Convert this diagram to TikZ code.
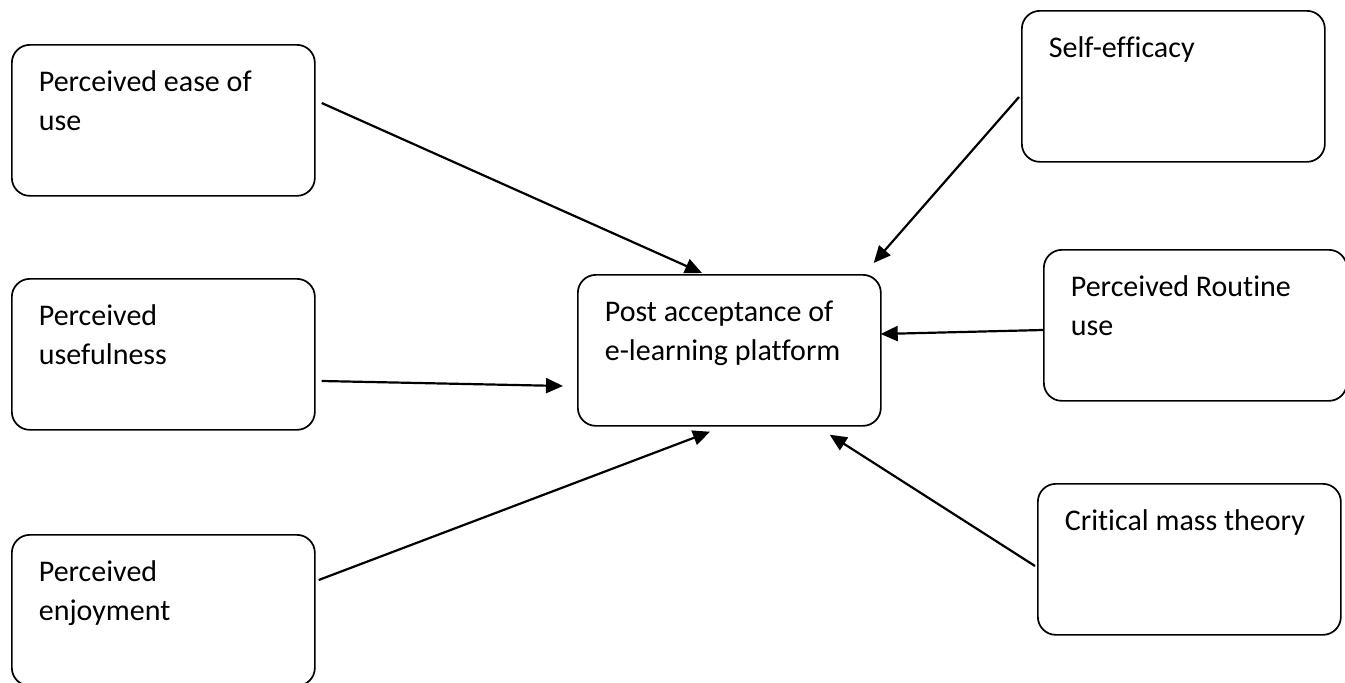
\documentclass[tikz,border=0pt]{standalone}
\usepackage{fontspec}
\setmainfont{Carlito}[Ligatures=NoCommon]
\usetikzlibrary{arrows.meta}
\newcommand\bxt[1]{\parbox[c][151pt][t]{303pt}{\leftskip=27pt\rightskip=0pt plus 1fil\parindent=0pt\rule{0pt}{47pt}#1}}
\tikzset{
  box/.style={draw, line width=1.7pt, rounded corners=18pt, inner sep=0pt, anchor=north west,
    minimum width=303pt, minimum height=151pt, font=\fontsize{30pt}{39pt}\selectfont},
  arr/.style={line width=2.2pt, -{Triangle[length=17pt,width=15pt]}}
}
\begin{document}
\begin{tikzpicture}[x=1pt,y=-1pt]
\useasboundingbox (0,0) rectangle (1345,683);
\node[box] (pe) at (11,44) {\bxt{Perceived ease of\\use}};
\node[box] (pu) at (11,278) {\bxt{Perceived\\usefulness}};
\node[box] (pj) at (11,534) {\bxt{Perceived\\enjoyment}};
\node[box] (po) at (577,274) {\bxt{Post acceptance of\\e-learning platform}};
\node[box] (se) at (1021,10) {\bxt{Self-efficacy}};
\node[box] (pr) at (1043,249) {\bxt{Perceived Routine\\use}};
\node[box] (cm) at (1037,483) {\bxt{Critical mass theory}};
\draw[arr] ([xshift=6pt,yshift=-59pt]pe.north east) -- ([xshift=125pt,yshift=1pt]po.north west);
\draw[arr] ([xshift=6pt,yshift=-103pt]pu.north east) -- ([xshift=-14pt,yshift=-112pt]po.north west);
\draw[arr] ([xshift=3pt,yshift=-46pt]pj.north east) -- ([xshift=133pt,yshift=-5pt]po.south west);
\draw[arr] ([xshift=-2pt,yshift=-87pt]se.north west) -- ([xshift=-8pt,yshift=11pt]po.north east);
\draw[arr] ([yshift=-81pt]pr.north west) -- ([xshift=-1pt,yshift=-60pt]po.north east);
\draw[arr] ([xshift=-2pt,yshift=-83pt]cm.north west) -- ([xshift=-52pt,yshift=-8pt]po.south east);
\end{tikzpicture}
\end{document}
